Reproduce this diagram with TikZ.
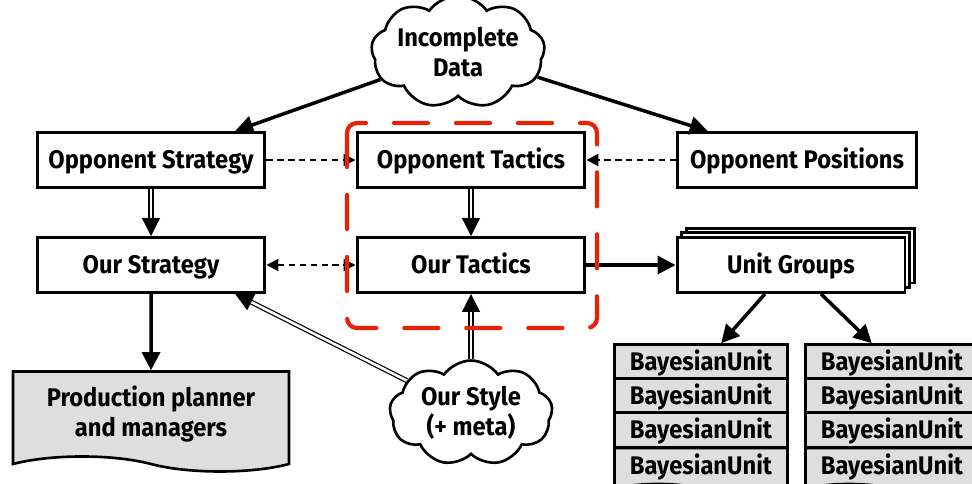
\documentclass[tikz,border=0pt]{standalone}
\usepackage{fontspec}
\setmainfont[FakeStretch=0.93]{Fira Sans}
\usetikzlibrary{arrows.meta,shapes.symbols,shadows}
\definecolor{tacred}{RGB}{232,34,8}
\definecolor{unitgray}{RGB}{222,222,222}
\begin{document}
\begin{tikzpicture}[x=0.02cm,y=-0.02cm,
	box/.style={draw, line width=1.7pt, fill=white, minimum width=4.56cm, minimum height=1.1cm, inner sep=0pt, text height=10pt, text depth=0pt},
	bunit/.style={draw, line width=1.5pt, fill=unitgray, minimum width=3.46cm, minimum height=0.7cm, inner sep=0pt, text height=10pt, text depth=0pt},
	bdoc/.style={bunit, tape, tape bend top=none, tape bend bottom=out and in, tape bend height=0.18cm, minimum height=0.9cm},
	datacloud/.style={cloud, cloud puffs=9, cloud puff arc=110, cloud ignores aspect, draw, line width=1.5pt, fill=white, align=center, inner sep=0pt},
	flow/.style={line width=2pt, -{Triangle[length=0.36cm,width=0.36cm]}},
	hint/.style={dash pattern=on 3.6pt off 2.6pt, line width=1.1pt, -{Triangle[length=0.24cm,width=0.24cm]}},
	feed/.style={draw=black, double=white, double distance=1.5pt, line width=0.7pt, -{Triangle[length=0.36cm,width=0.36cm]}},
	tacframe/.style={draw=tacred, line width=2.4pt, line cap=round, dash pattern=on 0.68cm off 0.56cm, rounded corners=0.2cm}]
	\useasboundingbox (0,0) rectangle (972,483);
	\fontsize{14.5}{17}\selectfont\bfseries

	% inputs
	\node[datacloud, minimum width=3.3cm, minimum height=2.25cm] (data) at (458,52) {Incomplete\\Data};
	\node[box] (ostrat) at (151,160) {Opponent Strategy};
	\node[box] (otact) at (471,160) {Opponent Tactics};
	\node[box, minimum width=4.78cm] (opos) at (797,160) {Opponent Positions};

	% our side
	\node[box] (strat) at (151,265) {Our Strategy};
	\node[box] (tact) at (471,265) {Our Tactics};
	\node[box, double copy shadow={shadow xshift=0.095cm, shadow yshift=0.095cm}] (ugroups) at (791,265) {Unit Groups};
	\node[bunit, tape, tape bend top=none, tape bend bottom=out and in, tape bend height=0.3cm,
		minimum width=5.52cm, minimum height=2cm, align=center, text height=, text depth=] (prod) at (151,414) {Production planner\\and managers};
	\node[datacloud, minimum width=3.26cm, minimum height=2.1cm] (style) at (471,413) {Our Style\\(+ meta)};

	% bayesian units
	\node[bunit] (bl1) at (701,362) {BayesianUnit};
	\node[bunit] (bl2) at (701,396) {BayesianUnit};
	\node[bunit] (bl3) at (701,430) {BayesianUnit};
	\node[bdoc] (bl4) at (701,466) {BayesianUnit};
	\node[bunit] (br1) at (892,362) {BayesianUnit};
	\node[bunit] (br2) at (892,396) {BayesianUnit};
	\node[bunit] (br3) at (892,430) {BayesianUnit};
	\node[bdoc] (br4) at (892,466) {BayesianUnit};

	% connectors
	\draw[flow] (data) -- (ostrat.19);
	\draw[flow] (data) -- (opos.162);
	\draw[hint] (ostrat) -- (otact);
	\draw[hint] (opos) -- (otact);
	\draw[feed] (ostrat) -- (strat);
	\draw[feed] (otact) -- (tact);
	\draw[hint, {Triangle[length=0.24cm,width=0.24cm]}-{Triangle[length=0.24cm,width=0.24cm]}] (strat) -- (tact);
	\draw[flow] (tact) -- (ugroups);
	\draw[flow] (strat) -- (prod);
	\draw[feed] (style) -- (strat.-19);
	\draw[feed] (style) -- (tact);
	\draw[flow] (ugroups.228) -- (bl1.43);
	\draw[flow] (ugroups.-44) -- (br1.137);

	% tactics frame
	\draw[tacframe] (347,123) rectangle (597,328);
\end{tikzpicture}
\end{document}
